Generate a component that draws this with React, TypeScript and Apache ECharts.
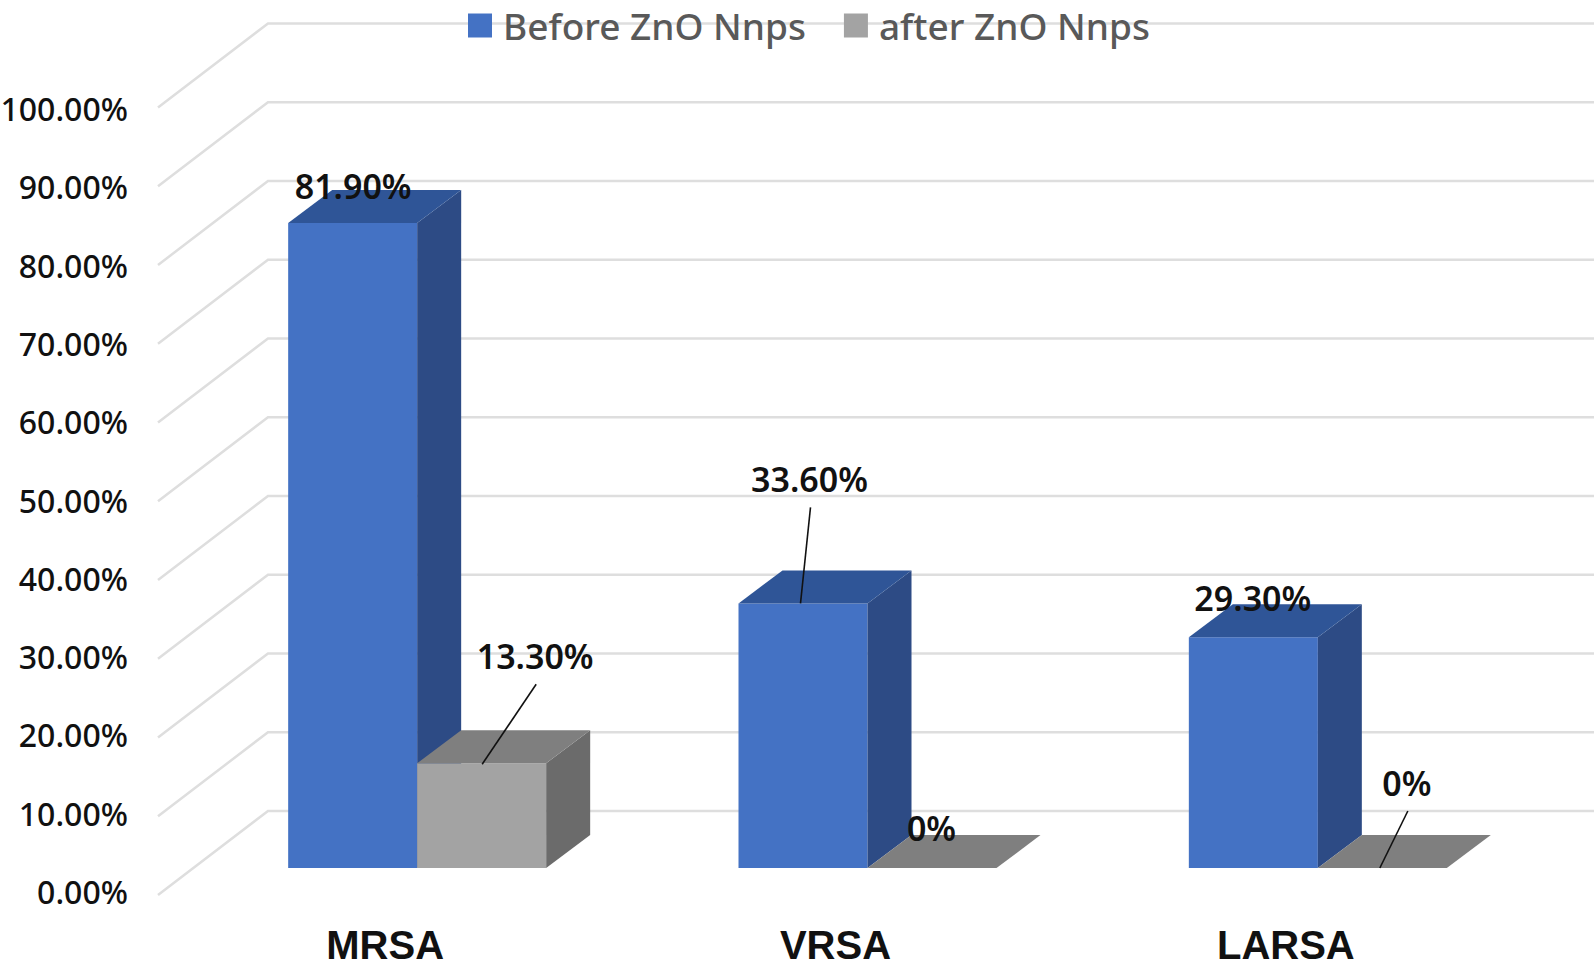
import React, { useEffect, useRef } from "react";
import * as echarts from "echarts";

const categories = ["MRSA", "VRSA", "LARSA"];
const beforeValues = [81.9, 33.6, 29.3];
const afterValues = [13.3, 0, 0];
const gridTicks = [0, 10, 20, 30, 40, 50, 60, 70, 80, 90, 100];

const FONT = "'Noto Sans', sans-serif";
const DEPTH_X = 44;
const DEPTH_Y = 33;
const BAR_W = 129;

// label centre / leader line, relative to the bar's top-left front corner
const beforeNotes: any[] = [
  { tx: 65, ty: -37 },
  { tx: 71, ty: -124, line: [72, -96, 62, 0] },
  { tx: 64, ty: -39 },
];
const afterNotes: any[] = [
  { tx: 118, ty: -107, line: [119, -79, 65, 1] },
  { tx: 64, ty: -40 },
  { tx: 89, ty: -85, line: [90, -57, 62, 0] },
];

function shade(api: any, front: string, top: string, side: string, x: number, y: number, y0: number) {
  const kids: any[] = [];
  if (y0 - y > 0.5) {
    kids.push({ type: "rect", shape: { x, y, width: BAR_W, height: y0 - y }, style: { fill: front } });
    kids.push({
      type: "polygon",
      shape: { points: [[x + BAR_W, y], [x + BAR_W + DEPTH_X, y - DEPTH_Y], [x + BAR_W + DEPTH_X, y0 - DEPTH_Y], [x + BAR_W, y0]] },
      style: { fill: side },
    });
  }
  kids.push({
    type: "polygon",
    shape: { points: [[x, y], [x + DEPTH_X, y - DEPTH_Y], [x + BAR_W + DEPTH_X, y - DEPTH_Y], [x + BAR_W, y]] },
    style: { fill: top },
  });
  return kids;
}

function barSeries(name: string, values: number[], slot: number, colors: string[], notes: any[]) {
  return {
    type: "custom",
    name,
    xAxisIndex: 1,
    yAxisIndex: 1,
    z: 3 + slot,
    itemStyle: { color: colors[0] },
    data: values.map((v, i) => [i, v]),
    encode: { x: 0, y: 1 },
    renderItem: (params: any, api: any) => {
      const i = api.value(0);
      const v = api.value(1);
      const p = api.coord([i, v]);
      const p0 = api.coord([i, 0]);
      const x = p[0] - BAR_W + slot * BAR_W;
      const kids = shade(api, colors[0], colors[1], colors[2], x, p[1], p0[1]);
      const n = notes[params.dataIndex];
      if (n.line) {
        kids.push({
          type: "line",
          shape: { x1: x + n.line[0], y1: p[1] + n.line[1], x2: x + n.line[2], y2: p[1] + n.line[3] },
          style: { stroke: "#111", lineWidth: 1.6 },
        });
      }
      kids.push({
        type: "text",
        x: x + n.tx,
        y: p[1] + n.ty,
        style: {
          text: v === 0 ? "0%" : v.toFixed(2) + "%",
          fill: "#111",
          font: `600 34px ${FONT}`,
          align: "center",
          verticalAlign: "middle",
        },
      });
      return { type: "group", children: kids };
    },
  };
}

export default function App() {
  const ref = useRef<HTMLDivElement>(null);
  useEffect(() => {
    const chart = echarts.init(ref.current!, undefined, { renderer: "svg" });
    chart.setOption({
      animation: false,
      backgroundColor: "#fff",
      legend: {
        left: 463,
        top: 2,
        padding: [5, 5],
        itemWidth: 24,
        itemHeight: 24,
        itemGap: 38,
        icon: "rect",
        data: ["Before ZnO Nnps", "after ZnO Nnps"],
        textStyle: { color: "#595959", fontFamily: FONT, fontSize: 37, fontWeight: 500, padding: [0, 0, 4, 6] },
      },
      grid: [
        { left: 192, right: 51, top: 108.5, height: 783, outerBoundsMode: "none" },
        { left: 192, right: 51, top: 80.5, height: 787.5, outerBoundsMode: "none" },
      ],
      xAxis: [
        { type: "category", gridIndex: 0, data: categories, show: false },
        {
          type: "category",
          gridIndex: 1,
          data: categories,
          axisLine: { show: false },
          axisTick: { show: false },
          axisLabel: {
            margin: 59,
            padding: [0, 64, 0, 0],
            color: "#111",
            fontFamily: "'Liberation Sans', sans-serif",
            fontSize: 40,
            fontWeight: 700,
            lineHeight: 36,
          },
        },
      ],
      yAxis: [
        {
          type: "value",
          gridIndex: 0,
          min: 0,
          max: 100,
          interval: 10,
          axisLine: { show: false },
          axisTick: { show: false },
          splitLine: { show: false },
          axisLabel: {
            margin: 64,
            formatter: (v: number) => v.toFixed(2) + "%",
            color: "#111",
            fontFamily: FONT,
            fontSize: 32,
            fontWeight: 500,
          },
        },
        { type: "value", gridIndex: 1, min: 0, max: 100, interval: 10, show: false },
      ],
      series: [
        {
          type: "custom",
          name: "grid",
          xAxisIndex: 1,
          yAxisIndex: 1,
          z: 1,
          silent: true,
          data: gridTicks.map((t) => [0, t]),
          encode: { x: 0, y: 1 },
          renderItem: (_p: any, api: any) => {
            const y = api.coord([0, api.value(1)])[1];
            return {
              type: "group",
              children: [
                {
                  type: "polyline",
                  shape: { points: [[158, y + 27], [268, y - 57], [1594, y - 57]] },
                  style: { stroke: "#dedede", lineWidth: 2.5, fill: "none" },
                },
              ],
            };
          },
        },
        barSeries("Before ZnO Nnps", beforeValues, 0, ["#4472c4", "#2f5597", "#2d4b85"], beforeNotes),
        barSeries("after ZnO Nnps", afterValues, 1, ["#a3a3a3", "#7f7f7f", "#6b6b6b"], afterNotes),
      ],
    });
    return () => chart.dispose();
  }, []);
  return <div ref={ref} style={{ position: "absolute", left: 0, top: 0, width: 1594, height: 968 }} />;
}
